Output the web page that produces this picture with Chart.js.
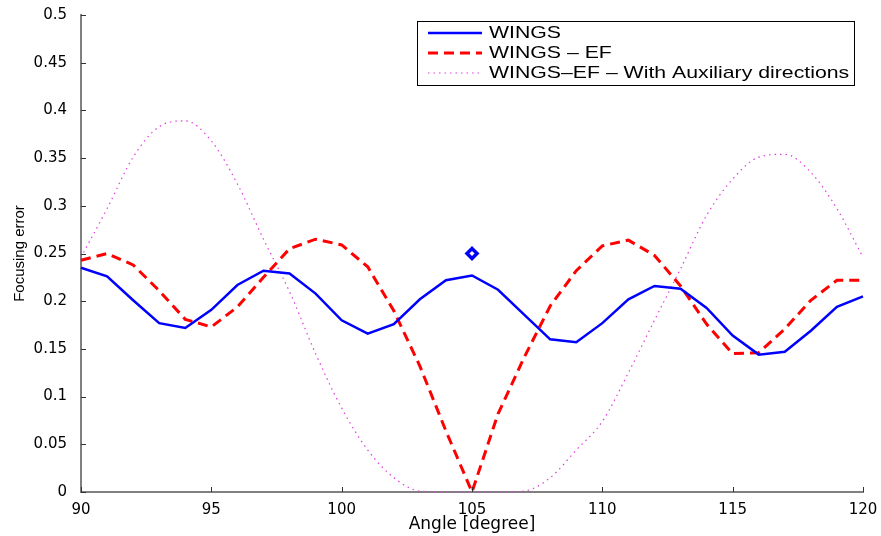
<!DOCTYPE html>
<html>
<head>
<meta charset="utf-8">
<script src="https://cdn.jsdelivr.net/npm/chart.js@4/dist/chart.umd.min.js"></script>
<style>
  html, body { margin: 0; padding: 0; background: #fff; }
</style>
</head>
<body>
<canvas id="chart" width="881" height="536"></canvas>
<script>
// values, one per degree
const angles = [90, 91, 92, 93, 94, 95, 96, 97, 98, 99, 100, 101, 102, 103, 104, 105,
                106, 107, 108, 109, 110, 111, 112, 113, 114, 115, 116, 117, 118, 119, 120];
const wings = [0.235, 0.226, 0.201, 0.177, 0.172, 0.191, 0.217, 0.232, 0.229, 0.208, 0.180,
               0.166, 0.176, 0.202, 0.222, 0.227, 0.212, 0.186, 0.160, 0.157, 0.177,
               0.202, 0.216, 0.213, 0.193, 0.164, 0.144, 0.147, 0.169, 0.194, 0.205];
const wingsEf = [0.243, 0.250, 0.238, 0.211, 0.181, 0.173, 0.194, 0.225, 0.255, 0.265, 0.259,
                 0.236, 0.190, 0.132, 0.064, 0.000, 0.082, 0.141, 0.195, 0.232, 0.258,
                 0.264, 0.248, 0.216, 0.176, 0.145, 0.146, 0.171, 0.201, 0.222, 0.222];
const wingsEfAux = [0.246, 0.297, 0.351, 0.383, 0.389, 0.368, 0.323, 0.265, 0.210, 0.145, 0.088,
                    0.044, 0.015, 0.001, 0.000, 0.000, 0.000, 0.001, 0.015, 0.044, 0.074,
                    0.125, 0.180, 0.234, 0.290, 0.328, 0.351, 0.354, 0.335, 0.297, 0.246];
const marker = { x: 105, y: 0.25 };

const seriesLabels = ['WINGS', 'WINGS \u2013 EF', 'WINGS\u2013EF \u2013 With Auxiliary directions'];
const xTicks = [90, 95, 100, 105, 110, 115, 120];

function pts(values) {
    return angles.map((a, i) => ({ x: a, y: values[i] }));
}

// MATLAB style inward ticks
const inwardTicks = {
    id: 'inwardTicks',
    afterDatasetsDraw(chart) {
        const { ctx, chartArea, scales } = chart;
        ctx.save();
        ctx.strokeStyle = '#333';
        ctx.lineWidth = 1;
        ctx.beginPath();
        scales.x.ticks.forEach(t => {
            const px = Math.round(scales.x.getPixelForValue(t.value)) + 0.5;
            ctx.moveTo(px, chartArea.bottom);
            ctx.lineTo(px, chartArea.bottom - 5);
        });
        scales.y.ticks.forEach(t => {
            const py = Math.round(scales.y.getPixelForValue(t.value)) + 0.5;
            ctx.moveTo(chartArea.left, py);
            ctx.lineTo(chartArea.left + 5, py);
        });
        ctx.stroke();
        ctx.restore();
    }
};

// boxed legend in the upper right corner
const boxLegend = {
    id: 'boxLegend',
    afterDraw(chart) {
        const ctx = chart.ctx;
        const x0 = 417.5, y0 = 21.5, w = 437, h = 64;
        ctx.save();
        ctx.fillStyle = '#fff';
        ctx.fillRect(x0, y0, w, h);
        ctx.strokeStyle = '#000';
        ctx.lineWidth = 1;
        ctx.strokeRect(x0, y0, w, h);
        chart.data.datasets.slice(0, 3).forEach((ds, i) => {
            const y = 33 + i * 20;
            ctx.strokeStyle = ds.borderColor;
            ctx.lineWidth = ds.borderWidth;
            ctx.setLineDash(ds.borderDash || []);
            ctx.beginPath();
            ctx.moveTo(428, y);
            ctx.lineTo(482, y);
            ctx.stroke();
            ctx.setLineDash([]);
            ctx.fillStyle = '#000';
            ctx.font = '17px "Liberation Sans", Arial, sans-serif';
            ctx.textBaseline = 'middle';
            ctx.save();
            ctx.translate(489, y);
            ctx.scale(1.25, 1);
            ctx.fillText(ds.label, 0, 0);
            ctx.restore();
        });
        ctx.restore();
    }
};

new Chart(document.getElementById('chart'), {
    type: 'line',
    data: {
        datasets: [
            {
                label: seriesLabels[0],
                data: pts(wings),
                borderColor: '#0000ff',
                borderWidth: 2.5,
                pointRadius: 0,
                tension: 0
            },
            {
                label: seriesLabels[1],
                data: pts(wingsEf),
                borderColor: '#ff0000',
                borderWidth: 3,
                borderDash: [10, 6],
                pointRadius: 0,
                tension: 0
            },
            {
                label: seriesLabels[2],
                data: pts(wingsEfAux),
                borderColor: '#e03ce0',
                borderWidth: 1.2,
                borderDash: [1.5, 4],
                pointRadius: 0,
                cubicInterpolationMode: 'monotone'
            },
            {
                label: 'marker',
                data: [marker],
                showLine: false,
                pointStyle: 'rectRot',
                pointRadius: 5,
                borderWidth: 3.5,
                borderColor: '#0000ff',
                backgroundColor: '#ffffff'
            }
        ]
    },
    options: {
        responsive: false,
        animation: false,
        clip: false,
        layout: { padding: { top: 15, right: 18, left: 0, bottom: 0 } },
        plugins: {
            legend: { display: false },
            tooltip: { enabled: false }
        },
        scales: {
            x: {
                type: 'linear',
                min: 90,
                max: 120,
                afterBuildTicks: scale => { scale.ticks = xTicks.map(v => ({ value: v })); },
                afterFit: scale => { scale.height = 44; },
                grid: { display: false },
                border: { display: true, color: '#808080', width: 2 },
                ticks: {
                    color: '#000',
                    padding: 1,
                    maxRotation: 0,
                    font: { family: '"DejaVu Sans"', size: 15 }
                },
                title: {
                    display: true,
                    text: 'Angle [degree]',
                    color: '#000',
                    padding: { top: 0, bottom: 1 },
                    font: { family: '"DejaVu Sans"', size: 17 }
                }
            },
            y: {
                min: 0,
                max: 0.5,
                afterFit: scale => { scale.width = 81; },
                grid: { display: false },
                border: { display: true, color: '#808080', width: 2 },
                ticks: {
                    stepSize: 0.05,
                    color: '#000',
                    padding: 6,
                    font: { family: '"DejaVu Sans"', size: 15 },
                    callback: v => String(Number(v.toFixed(2)))
                },
                title: {
                    display: true,
                    text: 'Focusing error',
                    color: '#000',
                    padding: { top: 11, bottom: 0 },
                    font: { family: '"Liberation Sans"', size: 15 }
                }
            }
        }
    },
    plugins: [inwardTicks, boxLegend]
});
</script>
</body>
</html>
